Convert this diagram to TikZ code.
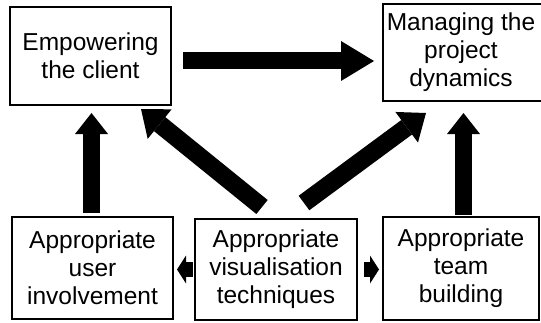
\documentclass[tikz,border=0pt]{standalone}
\usepackage{fontspec}
\setmainfont{Liberation Sans}
\usetikzlibrary{arrows.meta}
\begin{document}
\begin{tikzpicture}[x=1pt,y=1pt,
  box/.style={draw=black, line width=2pt, align=center, inner sep=0pt,
    font=\fontsize{24.5}{28}\selectfont},
  bigarrow/.style={line width=17pt, -{Triangle[length=33pt,width=40pt,line width=0pt]}},
  uparrow/.style={line width=17pt, -{Triangle[length=21pt,width=33pt,line width=0pt]}},
  diagarrow/.style={line width=18pt, -{Triangle[length=24pt,width=38pt,line width=0pt]}},
  smallarrow/.style={line width=15pt, -{Triangle[length=9pt,width=28pt,line width=0pt]}}]
\useasboundingbox (0,0) rectangle (541,322);
\fill[white] (0,0) rectangle (541,322);
\node[box, minimum width=161pt, minimum height=98pt] (E) at (90.5,266) {Empowering\\the client};
\node[box, minimum width=166pt, minimum height=97pt] (M) at (466,269.5) {};
\node[font=\fontsize{24.5}{28}\selectfont, align=center, inner sep=0pt] (Mt) at (461,270) {Managing the\\project\\dynamics};
\node[box, minimum width=161pt, minimum height=102pt] (U) at (92.5,54) {Appropriate\\user\\involvement};
\node[box, minimum width=162pt, minimum height=101pt] (V) at (276,52.5) {Appropriate\\visualisation\\techniques};
\node[box, minimum width=156pt, minimum height=103pt] (T) at (461,53.5) {Appropriate\\team\\building};
\draw[bigarrow] ([xshift=11pt,yshift=-5pt]E.east) -- ([xshift=-8pt,yshift=-8.5pt]M.west);
\draw[uparrow] ([xshift=-1pt,yshift=3pt]U.north) -- ([xshift=1pt,yshift=-7pt]E.south);
\draw[uparrow] ([xshift=2.5pt,yshift=1.5pt]T.north) -- ([xshift=-2.5pt,yshift=-11pt]M.south);
\draw[diagarrow] ([xshift=68pt,yshift=11pt]V.north west) -- ([xshift=-31pt,yshift=-3pt]E.south east);
\draw[diagarrow] ([xshift=-54pt,yshift=15pt]V.north east) -- ([xshift=44pt,yshift=-11pt]M.south west);
\draw[smallarrow] ([xshift=-1pt]V.west) -- ([xshift=3pt,yshift=-1.5pt]U.east);
\draw[smallarrow] ([xshift=6pt]V.east) -- ([xshift=-3pt,yshift=-1pt]T.west);
\end{tikzpicture}
\end{document}
